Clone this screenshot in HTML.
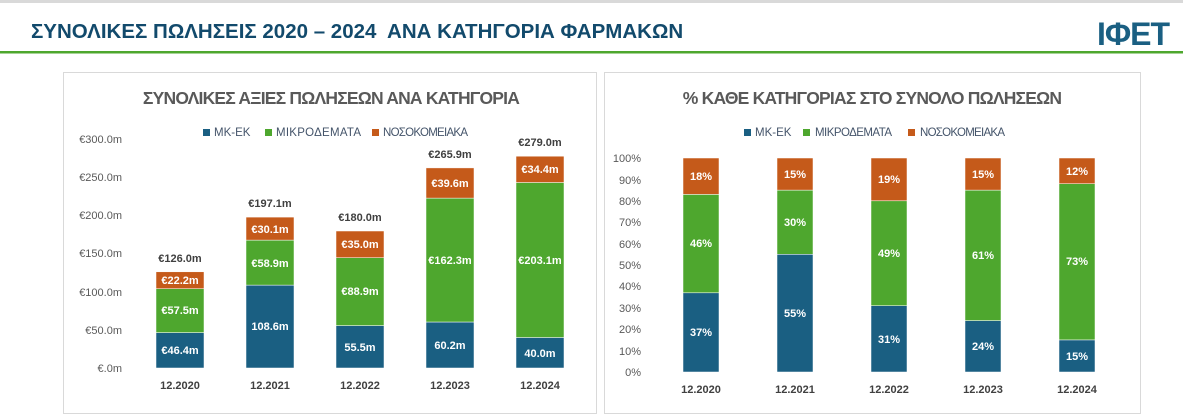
<!DOCTYPE html><html><head><meta charset="utf-8"><style>body{margin:0;background:#fff;}svg{display:block;font-family:"Liberation Sans",sans-serif}</style></head><body>
<svg width="1183" height="420" xmlns="http://www.w3.org/2000/svg">
<rect x="0" y="0" width="1183" height="3" fill="#d9d9d9"/>
<text x="31" y="38" font-size="20.5" font-weight="bold" fill="#124a6c" xml:space="preserve">ΣΥΝΟΛΙΚΕΣ ΠΩΛΗΣΕΙΣ 2020 – 2024  ΑΝΑ ΚΑΤΗΓΟΡΙΑ ΦΑΡΜΑΚΩΝ</text>
<rect x="0" y="51" width="1183" height="2.5" fill="#4ea72e"/>
<text x="1097" y="45" font-size="32" fill="#1a5f82" font-weight="bold" letter-spacing="-1">IΦET</text>
<rect x="63.5" y="72.5" width="533" height="341" fill="#fff" stroke="#d9d9d9"/>
<rect x="604.5" y="72.5" width="536" height="341" fill="#fff" stroke="#d9d9d9"/>
<g font-size="17.5" font-weight="bold" fill="#595959" text-anchor="middle">
<text x="331" y="104" letter-spacing="-0.8">ΣΥΝΟΛΙΚΕΣ ΑΞΙΕΣ ΠΩΛΗΣΕΩΝ ΑΝΑ ΚΑΤΗΓΟΡΙΑ</text>
<text x="872" y="104" letter-spacing="-0.8">% ΚΑΘΕ ΚΑΤΗΓΟΡΙΑΣ ΣΤΟ ΣΥΝΟΛΟ ΠΩΛΗΣΕΩΝ</text>
</g>
<g font-size="11.5" fill="#44546a">
<rect x="203" y="129" width="7" height="7" fill="#1a5f82"/><text x="214" y="136">ΜΚ-ΕΚ</text>
<rect x="265" y="129" width="7" height="7" fill="#4ea72e"/><text x="276" y="136" textLength="85">ΜΙΚΡΟΔΕΜΑΤΑ</text>
<rect x="372" y="129" width="7" height="7" fill="#c55a1a"/><text x="383" y="136" textLength="85">ΝΟΣΟΚΟΜΕΙΑΚΑ</text>
<rect x="744" y="129" width="7" height="7" fill="#1a5f82"/><text x="755" y="136">ΜΚ-ΕΚ</text>
<rect x="803" y="129" width="7" height="7" fill="#4ea72e"/><text x="815" y="136" textLength="77">ΜΙΚΡΟΔΕΜΑΤΑ</text>
<rect x="908" y="129" width="7" height="7" fill="#c55a1a"/><text x="920" y="136" textLength="85">ΝΟΣΟΚΟΜΕΙΑΚΑ</text>
</g>
<g font-size="11" fill="#595959" text-anchor="end">
<text x="122" y="143">€300.0m</text><text x="122" y="181">€250.0m</text><text x="122" y="219">€200.0m</text><text x="122" y="257">€150.0m</text><text x="122" y="296">€100.0m</text><text x="122" y="334">€50.0m</text><text x="122" y="372">€.0m</text>
<text x="641" y="162">100%</text><text x="641" y="184">90%</text><text x="641" y="205">80%</text><text x="641" y="226">70%</text><text x="641" y="248">60%</text><text x="641" y="269">50%</text><text x="641" y="290">40%</text><text x="641" y="312">30%</text><text x="641" y="333">20%</text><text x="641" y="355">10%</text><text x="641" y="376">0%</text>
</g>
<g stroke="#fff" stroke-width="0.5">
<rect x="156" y="332.6" width="48" height="35.4" fill="#1a5f82"/><rect x="156" y="288.7" width="48" height="43.9" fill="#4ea72e"/><rect x="156" y="271.8" width="48" height="16.9" fill="#c55a1a"/>
<rect x="246" y="285.1" width="48" height="82.9" fill="#1a5f82"/><rect x="246" y="240.1" width="48" height="45" fill="#4ea72e"/><rect x="246" y="217.1" width="48" height="23" fill="#c55a1a"/>
<rect x="336" y="325.6" width="48" height="42.4" fill="#1a5f82"/><rect x="336" y="257.7" width="48" height="67.9" fill="#4ea72e"/><rect x="336" y="231" width="48" height="26.7" fill="#c55a1a"/>
<rect x="426" y="322" width="48" height="46" fill="#1a5f82"/><rect x="426" y="198.1" width="48" height="123.9" fill="#4ea72e"/><rect x="426" y="167.9" width="48" height="30.2" fill="#c55a1a"/>
<rect x="516" y="337.5" width="48" height="30.5" fill="#1a5f82"/><rect x="516" y="182.5" width="48" height="155" fill="#4ea72e"/><rect x="516" y="156.2" width="48" height="26.3" fill="#c55a1a"/>
<rect x="683" y="292.8" width="36" height="79.2" fill="#1a5f82"/><rect x="683" y="194.4" width="36" height="98.4" fill="#4ea72e"/><rect x="683" y="158" width="36" height="36.4" fill="#c55a1a"/>
<rect x="777" y="254.3" width="36" height="117.7" fill="#1a5f82"/><rect x="777" y="190.1" width="36" height="64.2" fill="#4ea72e"/><rect x="777" y="158" width="36" height="32.1" fill="#c55a1a"/>
<rect x="871" y="305.7" width="36" height="66.3" fill="#1a5f82"/><rect x="871" y="200.8" width="36" height="104.9" fill="#4ea72e"/><rect x="871" y="158" width="36" height="42.8" fill="#c55a1a"/>
<rect x="965" y="320.6" width="36" height="51.4" fill="#1a5f82"/><rect x="965" y="190.1" width="36" height="130.5" fill="#4ea72e"/><rect x="965" y="158" width="36" height="32.1" fill="#c55a1a"/>
<rect x="1059" y="339.9" width="36" height="32.1" fill="#1a5f82"/><rect x="1059" y="183.7" width="36" height="156.2" fill="#4ea72e"/><rect x="1059" y="158" width="36" height="25.7" fill="#c55a1a"/>
</g>
<g font-size="11" font-weight="bold" fill="#fff" text-anchor="middle">
<text x="180" y="354">€46.4m</text><text x="180" y="314">€57.5m</text><text x="180" y="284">€22.2m</text>
<text x="270" y="330">108.6m</text><text x="270" y="267">€58.9m</text><text x="270" y="233">€30.1m</text>
<text x="360" y="351">55.5m</text><text x="360" y="295">€88.9m</text><text x="360" y="248">€35.0m</text>
<text x="450" y="349">60.2m</text><text x="450" y="264">€162.3m</text><text x="450" y="187">€39.6m</text>
<text x="540" y="357">40.0m</text><text x="540" y="264">€203.1m</text><text x="540" y="173">€34.4m</text>
<text x="701" y="336">37%</text><text x="701" y="247">46%</text><text x="701" y="180">18%</text>
<text x="795" y="317">55%</text><text x="795" y="226">30%</text><text x="795" y="178">15%</text>
<text x="889" y="343">31%</text><text x="889" y="257">49%</text><text x="889" y="183">19%</text>
<text x="983" y="350">24%</text><text x="983" y="259">61%</text><text x="983" y="178">15%</text>
<text x="1077" y="360">15%</text><text x="1077" y="265">73%</text><text x="1077" y="175">12%</text>
</g>
<g font-size="11" font-weight="bold" fill="#404040" text-anchor="middle">
<text x="180" y="262">€126.0m</text><text x="270" y="207">€197.1m</text><text x="360" y="221">€180.0m</text><text x="450" y="158">€265.9m</text><text x="540" y="146">€279.0m</text>
<text x="180" y="389">12.2020</text><text x="270" y="389">12.2021</text><text x="360" y="389">12.2022</text><text x="450" y="389">12.2023</text><text x="540" y="389">12.2024</text>
<text x="701" y="393">12.2020</text><text x="795" y="393">12.2021</text><text x="889" y="393">12.2022</text><text x="983" y="393">12.2023</text><text x="1077" y="393">12.2024</text>
</g>
</svg></body></html>
